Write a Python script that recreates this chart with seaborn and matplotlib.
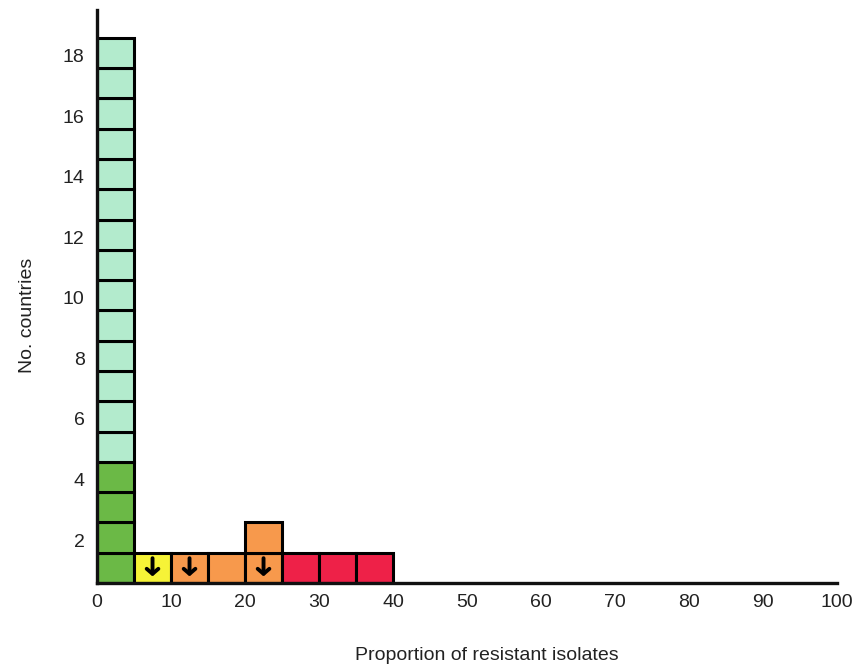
import numpy as np
import pandas as pd
import seaborn as sns
import matplotlib
matplotlib.use("Agg")
import matplotlib.pyplot as plt

sns.set_style("white")
plt.rcParams["font.family"] = ["Liberation Sans", "DejaVu Sans"]

# one entry per country: 5% bin start, colour group, decreasing-trend arrow
country_bin = [0] * 18 + [5, 10, 15, 20, 20, 25, 30, 35]
country_group = (["dark green"] * 4 + ["light green"] * 14 +
                 ["yellow", "orange", "orange", "orange", "orange", "red", "red", "red"])
country_arrow = [False] * 18 + [True, True, False, True, False, False, False, False]

group_colors = {
    "light green": "#b3ebcd",
    "dark green": "#6bb946",
    "yellow": "#f6f337",
    "orange": "#f7994c",
    "red": "#ee2148",
}

y_ticks = [2, 4, 6, 8, 10, 12, 14, 16, 18]
x_ticks = [0, 10, 20, 30, 40, 50, 60, 70, 80, 90, 100]

df = pd.DataFrame({"bin": country_bin, "group": country_group, "arrow": country_arrow})
df["level"] = df.groupby("bin").cumcount()

fig = plt.figure(figsize=(8.64, 6.67), dpi=100)
ax = fig.add_axes([0.1123, 0.1259, 0.8565, 0.859])

ax.bar(df["bin"], 1, bottom=df["level"], width=5, align="edge",
       color=df["group"].map(group_colors), edgecolor="black", linewidth=2.2,
       zorder=2)

# downward trend arrows
for _, r in df[df["arrow"]].iterrows():
    ax.annotate("", xy=(r["bin"] + 2.5, r["level"] + 0.22),
                xytext=(r["bin"] + 2.5, r["level"] + 0.82),
                arrowprops=dict(arrowstyle="->,head_width=0.42,head_length=0.36",
                                lw=2.8, color="black", shrinkA=0, shrinkB=0),
                zorder=3)

ax.set_xlim(0, 100)
ax.set_ylim(0, 18.92)
ax.set_xticks(x_ticks)
ax.set_xticklabels([str(t) for t in x_ticks])
ax.set_yticks(np.array(y_ticks) - 0.58)
ax.set_yticklabels([str(t) for t in y_ticks])
ax.tick_params(axis="both", length=0, labelsize=14, colors="#222222")
ax.tick_params(axis="x", pad=8)
ax.tick_params(axis="y", pad=9)

sns.despine(ax=ax)
for s in ["left", "bottom"]:
    ax.spines[s].set_linewidth(2.4)
    ax.spines[s].set_color("#111111")
    ax.spines[s].set_zorder(4)

ax.set_xlabel("Proportion of resistant isolates", fontsize=14, color="#222222")
ax.set_ylabel("No. countries", fontsize=14, color="#222222")
ax.xaxis.set_label_coords(0.527, -0.112)
ax.yaxis.set_label_coords(-0.082, 0.468)

fig.savefig("out.png", dpi=100)
